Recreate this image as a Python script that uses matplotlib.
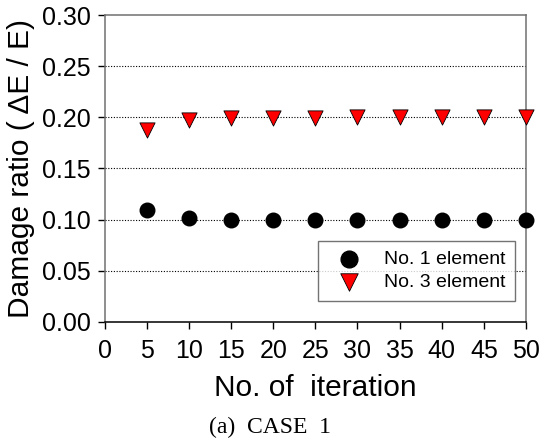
import matplotlib
matplotlib.use("Agg")
import matplotlib.pyplot as plt

iterations = [5, 10, 15, 20, 25, 30, 35, 40, 45, 50]
element_1 = [0.109, 0.102, 0.1, 0.0995, 0.0998, 0.0999, 0.1, 0.1, 0.1, 0.1]
element_3 = [0.188, 0.197, 0.1995, 0.1997, 0.1998, 0.1999, 0.2, 0.2, 0.2, 0.2]

plt.rcParams['font.family'] = ['Liberation Sans', 'DejaVu Sans']

fig = plt.figure(figsize=(5.4, 4.44), dpi=100)
ax = fig.add_axes([0.194, 0.275, 0.78, 0.691])

for y in [0.05, 0.10, 0.15, 0.20, 0.25]:
    ax.axhline(y, color='black', linestyle=(0, (1, 1.5)), linewidth=0.8, zorder=1)

ax.scatter(iterations, element_1, s=110, marker='o', color='black',
           label='No. 1 element', zorder=3, clip_on=False)
ax.scatter(iterations, element_3, s=120, marker='v', facecolor='red',
           edgecolor='black', linewidth=0.6, label='No. 3 element', zorder=3, clip_on=False)

ax.set_xlim(0, 50)
ax.set_ylim(0, 0.30)
ax.set_xticks(range(0, 51, 5))
ax.set_yticks([0, 0.05, 0.10, 0.15, 0.20, 0.25, 0.30])
ax.set_yticklabels(['0.00', '0.05', '0.10', '0.15', '0.20', '0.25', '0.30'])
ax.tick_params(labelsize=18, length=5, width=1, direction='out')
ax.tick_params(axis='y', pad=5)
ax.tick_params(axis='x', pad=7)

for side in ['top', 'right', 'left']:
    ax.spines[side].set_color('#707070')
ax.spines['bottom'].set_color('black')
for s in ax.spines.values():
    s.set_linewidth(1.1)

ax.set_xlabel('No. of  iteration', fontsize=21.5, labelpad=8)
ax.set_ylabel('Damage ratio ( \u0394E / E)', fontsize=21.5, labelpad=5)

leg = ax.legend(loc='lower right', bbox_to_anchor=(0.974, 0.068), fontsize=14,
                frameon=True, fancybox=False, edgecolor='#505050',
                handletextpad=0.7, handlelength=2.2, borderpad=0.5,
                labelspacing=0.3, borderaxespad=0, markerscale=1.15)
leg.get_frame().set_linewidth(1)

fig.text(0.5, 0.025, '(a)  CASE  1', ha='center', fontsize=17,
         family=['Liberation Serif', 'DejaVu Serif'])

fig.savefig('out.png', dpi=100)
